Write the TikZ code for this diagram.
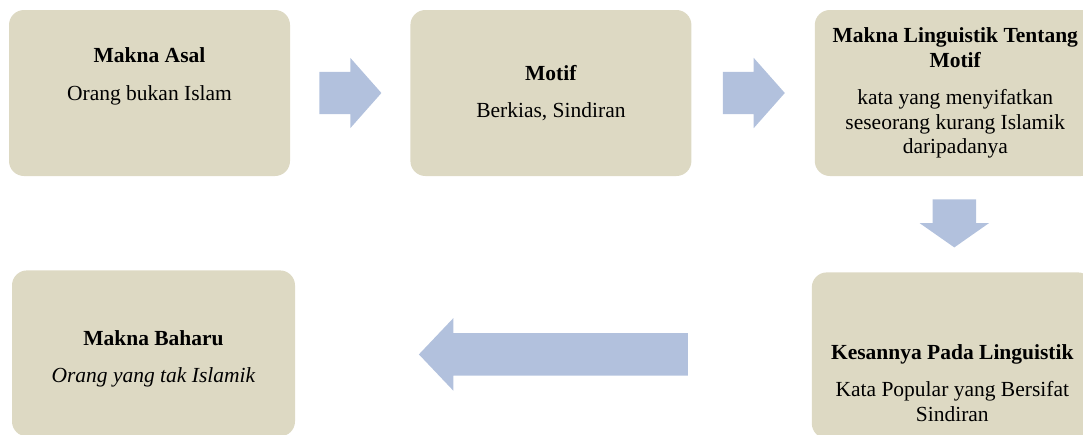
\documentclass[tikz,border=0pt]{standalone}
\usepackage{fontspec}
\setmainfont{Liberation Serif}
\usepackage{xcolor}
\usetikzlibrary{positioning,calc,shapes.arrows}
\definecolor{boxtan}{RGB}{221,217,195}
\definecolor{flowblue}{RGB}{178,193,221}

\begin{document}
\begin{tikzpicture}[x=1pt, y=-1pt,
    box/.style={rectangle, rounded corners=15pt, fill=boxtan, minimum width=281pt, minimum height=166pt, inner sep=0pt, align=center, font=\fontsize{21.5}{24.5}\selectfont},
    flow/.style={single arrow, fill=flowblue, inner xsep=0pt, inner ysep=21pt, single arrow head indent=0pt, anchor=tail}]
    \useasboundingbox (0,0) rectangle (1083,434);
    \clip (0,0) rectangle (1083,434);

    % Top row
    \node[box] (asal) at (149.5,93) {\textbf{Makna Asal}\\[13pt]Orang bukan Islam\\[13pt]~};
    \node[box, right=120pt of asal] (motif) {\textbf{Motif}\\[13pt]Berkias, Sindiran};
    \node[box, right=123pt of motif] (linguistik) {\textbf{Makna Linguistik Tentang}\\\textbf{Motif}\\[13pt]kata yang menyifatkan\\seseorang kurang Islamik\\daripadanya};

    % Bottom row
    \node[box, below=96pt of linguistik, xshift=-3pt] (kesan) {\rule{0pt}{70pt}\textbf{Kesannya Pada Linguistik}\\[13pt]Kata Popular yang Bersifat\\Sindiran};
    \node[box, minimum width=283pt, below=94pt of asal, xshift=4pt] (baharu) {\rule{0pt}{26pt}\textbf{Makna Baharu}\\[13pt]\textit{Orang yang tak Islamik}};

    % Arrows
    \node[flow, minimum height=62pt, single arrow head extend=14pt, single arrow tip angle=97] (f1) at ($(asal.east)+(29,0)$) {};
    \node[flow, minimum height=62pt, single arrow head extend=14pt, single arrow tip angle=97] (f2) at ($(motif.east)+(31,0)$) {};
    \node[flow, minimum height=48pt, inner xsep=21.5pt, inner ysep=0pt, single arrow head extend=13pt, single arrow tip angle=110, shape border rotate=270] (f3) at ($(linguistik.south)+(-1,23)$) {};
    \node[flow, minimum height=269pt, single arrow head extend=15pt, single arrow tip angle=93, shape border rotate=180] (f4) at ($(kesan.west |- baharu.east)+(-123.5,1)$) {};
\end{tikzpicture}
\end{document}
